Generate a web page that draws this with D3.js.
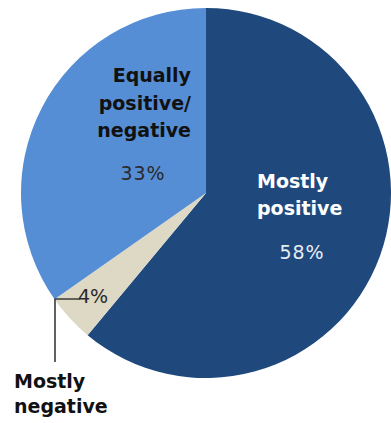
<!DOCTYPE html>
<html>
<head>
<meta charset="utf-8">
<script src="https://cdn.jsdelivr.net/npm/d3@7"></script>
<style>
  body { margin: 0; background: #fff; }
  svg { display: block; }
</style>
</head>
<body>
<svg id="pie"></svg>
<script>
// data
const categories = ["Mostly positive", "Mostly negative", "Equally positive/negative"];
const values = [58, 4, 33];
const valueLabels = ["58%", "4%", "33%"];

const width = 391, height = 423;
const cx = 206, cy = 193, radius = 185;

var svg = d3.select("#pie")
    .attr("width", width)
    .attr("height", height);

var colorScale = d3.scaleOrdinal()
    .domain(categories)
    .range(["#1f497d", "#ddd9c4", "#558ed5"]);

var pie = d3.pie().sort(null).value(d => d.value);
var arc = d3.arc().innerRadius(0).outerRadius(radius);

var slices = pie(categories.map((c, i) => ({ name: c, value: values[i] })));

var g = svg.append("g").attr("transform", `translate(${cx},${cy})`);

g.selectAll("path")
    .data(slices)
    .enter()
    .append("path")
    .attr("d", arc)
    .attr("fill", d => colorScale(d.data.name));

const bold = "'DejaVu Sans', sans-serif";

// Equally positive/negative label (inside light slice)
const eq = svg.append("text")
    .attr("text-anchor", "end")
    .style("font-family", bold)
    .style("font-weight", "bold")
    .style("font-size", "19px")
    .attr("fill", "#111");
[["Equally", 82], ["positive/", 110], ["negative", 137]].forEach(([t, y]) => {
    eq.append("tspan").attr("x", 191).attr("y", y).text(t);
});
svg.append("text")
    .attr("x", 143).attr("y", 180)
    .attr("text-anchor", "middle")
    .style("font-family", bold)
    .style("font-size", "19px")
    .style("letter-spacing", "1px")
    .attr("fill", "#2a2a2a")
    .text(valueLabels[2]);

// Mostly positive label
const mp = svg.append("text")
    .style("font-family", bold)
    .style("font-weight", "bold")
    .style("font-size", "19px")
    .attr("fill", "#fff");
[["Mostly", 188], ["positive", 215]].forEach(([t, y]) => {
    mp.append("tspan").attr("x", 257).attr("y", y).text(t);
});
svg.append("text")
    .attr("x", 302).attr("y", 259)
    .attr("text-anchor", "middle")
    .style("font-family", bold)
    .style("font-size", "19px")
    .style("letter-spacing", "1px")
    .attr("fill", "#e8ecf3")
    .text(valueLabels[0]);

// Mostly negative: leader line and labels
svg.append("path")
    .attr("d", "M80,299H55V362")
    .attr("fill", "none")
    .attr("stroke", "#3a3a3a")
    .attr("stroke-width", 1.6);
svg.append("text")
    .attr("x", 78).attr("y", 303)
    .style("font-family", bold)
    .style("font-size", "19px")
    .attr("fill", "#2a2a2a")
    .text(valueLabels[1]);
const mn = svg.append("text")
    .style("font-family", bold)
    .style("font-weight", "bold")
    .style("font-size", "19px")
    .attr("fill", "#111");
[["Mostly", 388], ["negative", 413]].forEach(([t, y]) => {
    mn.append("tspan").attr("x", 14).attr("y", y).text(t);
});
</script>
</body>
</html>
